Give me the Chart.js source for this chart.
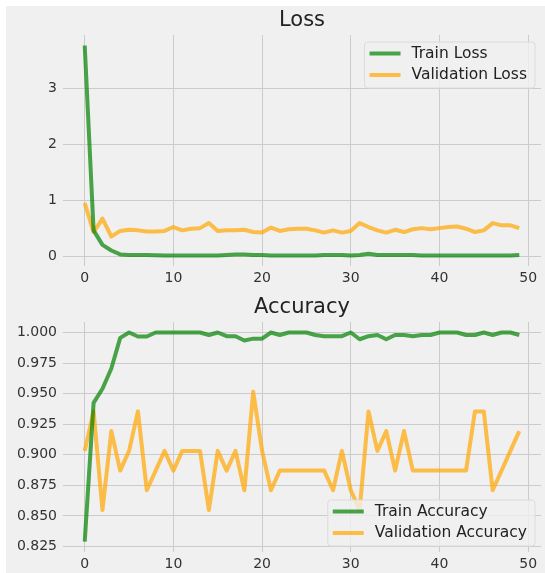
<!DOCTYPE html>
<html>
<head>
<meta charset="utf-8">
<script src="https://cdn.jsdelivr.net/npm/chart.js@4.4.1/dist/chart.umd.min.js"></script>
<style>
  html, body { margin: 0; padding: 0; background: #fff; }
  #fig { position: absolute; left: 6px; top: 6px; width: 539px; height: 567px; background: #f0f0f0; }
  #lossWrap { position: absolute; left: 0; top: 0; width: 539px; height: 284px; }
  #accWrap { position: absolute; left: 0; top: 284px; width: 539px; height: 283px; }
</style>
</head>
<body>
<div id="fig">
  <div id="lossWrap"><canvas id="lossChart"></canvas></div>
  <div id="accWrap"><canvas id="accChart"></canvas></div>
</div>
<script>
// Training history
const epochs = [0, 1, 2, 3, 4, 5, 6, 7, 8, 9, 10, 11, 12, 13, 14, 15, 16, 17, 18, 19,
  20, 21, 22, 23, 24, 25, 26, 27, 28, 29, 30, 31, 32, 33, 34, 35, 36, 37, 38, 39,
  40, 41, 42, 43, 44, 45, 46, 47, 48, 49];

const trainLoss = [3.77, 0.46, 0.20, 0.10, 0.03, 0.02, 0.02, 0.02, 0.015, 0.01,
  0.01, 0.01, 0.01, 0.01, 0.01, 0.01, 0.02, 0.03, 0.03, 0.02,
  0.02, 0.01, 0.01, 0.01, 0.01, 0.01, 0.01, 0.02, 0.02, 0.02,
  0.01, 0.02, 0.04, 0.02, 0.02, 0.02, 0.02, 0.02, 0.01, 0.01,
  0.01, 0.01, 0.01, 0.01, 0.01, 0.01, 0.01, 0.01, 0.01, 0.02];
const valLoss = [0.95, 0.43, 0.67, 0.35, 0.45, 0.47, 0.46, 0.44, 0.44, 0.45,
  0.52, 0.46, 0.49, 0.50, 0.59, 0.45, 0.46, 0.46, 0.47, 0.43,
  0.42, 0.51, 0.45, 0.48, 0.49, 0.49, 0.46, 0.42, 0.46, 0.42,
  0.45, 0.59, 0.52, 0.46, 0.42, 0.47, 0.43, 0.48, 0.50, 0.48,
  0.50, 0.52, 0.53, 0.49, 0.43, 0.46, 0.59, 0.55, 0.55, 0.50];

const trainAcc = [0.829, 0.9425, 0.954, 0.9706, 0.9956, 1.0, 0.9967, 0.9967, 1.0, 1.0,
  1.0, 1.0, 1.0, 1.0, 0.998, 1.0, 0.997, 0.997, 0.9935, 0.995,
  0.995, 1.0, 0.998, 1.0, 1.0, 1.0, 0.998, 0.997, 0.997, 0.997,
  1.0, 0.9945, 0.997, 0.998, 0.9945, 0.998, 0.998, 0.997, 0.998, 0.998,
  1.0, 1.0, 1.0, 0.998, 0.998, 1.0, 0.998, 1.0, 1.0, 0.998];
const valAcc = [0.9032, 0.9355, 0.8548, 0.9194, 0.8871, 0.9032, 0.9355, 0.8710, 0.8871, 0.9032,
  0.8871, 0.9032, 0.9032, 0.9032, 0.8548, 0.9032, 0.8871, 0.9032, 0.8710, 0.9516,
  0.9032, 0.8710, 0.8871, 0.8871, 0.8871, 0.8871, 0.8871, 0.8871, 0.8710, 0.9032,
  0.8710, 0.8548, 0.9355, 0.9032, 0.9194, 0.8871, 0.9194, 0.8871, 0.8871, 0.8871,
  0.8871, 0.8871, 0.8871, 0.8871, 0.9355, 0.9355, 0.8710, 0.8871, 0.9032, 0.9194];

const xTicks = [0, 10, 20, 30, 40, 50];
const lossTicks = [0, 1, 2, 3];
const accTicks = [0.825, 0.850, 0.875, 0.900, 0.925, 0.950, 0.975, 1.000];

const GREEN = 'rgba(0,128,0,0.7)';
const ORANGE = 'rgba(255,165,0,0.7)';
const GRID = '#cbcbcb';
const FONT = 'DejaVu Sans';

function pts(ys) {
  return epochs.map((e, i) => ({ x: e, y: ys[i] }));
}

// legend drawn inside the plot area, like matplotlib's
const insideLegend = {
  id: 'insideLegend',
  afterDatasetsDraw(chart, args, opts) {
    const ctx = chart.ctx;
    const area = chart.chartArea;
    ctx.save();
    ctx.font = '15.5px ' + FONT;
    const items = chart.data.datasets.map(d => ({ label: d.label, color: d.borderColor }));
    const textW = Math.max(...items.map(it => ctx.measureText(it.label).width));
    const w = 5 + 31 + 11 + textW + 8;
    const h = 46;
    const x = area.right - 6 - w;
    const y = opts.where === 'top' ? area.top + 7 : area.bottom - 6 - h;
    ctx.beginPath();
    ctx.roundRect(x, y, w, h, 3);
    ctx.fillStyle = 'rgba(240,240,240,0.8)';
    ctx.fill();
    ctx.strokeStyle = '#dadada';
    ctx.lineWidth = 1;
    ctx.stroke();
    items.forEach((it, i) => {
      const cy = y + 11.5 + i * 21.5;
      ctx.beginPath();
      ctx.moveTo(x + 5, cy);
      ctx.lineTo(x + 36, cy);
      ctx.strokeStyle = it.color;
      ctx.lineWidth = 4;
      ctx.stroke();
      ctx.fillStyle = '#222';
      ctx.textBaseline = 'middle';
      ctx.textAlign = 'left';
      ctx.fillText(it.label, x + 47, cy);
    });
    ctx.restore();
  }
};

function makeChart(id, title, titlePad, series, labels, yMin, yMax, yTicks, fmt, xHeight, where) {
  const ctx = document.getElementById(id).getContext('2d');
  return new Chart(ctx, {
    type: 'line',
    data: {
      datasets: series.map((s, i) => ({
        label: labels[i],
        data: pts(s),
        borderColor: i === 0 ? GREEN : ORANGE,
        borderWidth: 4,
        borderJoinStyle: 'round',
        pointRadius: 0,
        tension: 0,
        fill: false
      }))
    },
    options: {
      responsive: true,
      maintainAspectRatio: false,
      animation: false,
      layout: { padding: { left: 0, right: 4, top: 0, bottom: 0 } },
      plugins: {
        legend: { display: false },
        tooltip: { enabled: false },
        title: {
          display: true, text: title, fullSize: false,
          color: '#222', font: { family: FONT, size: 21, weight: 'normal', lineHeight: 1.2 },
          padding: titlePad
        },
        insideLegend: { where }
      },
      scales: {
        x: {
          type: 'linear', min: -2.45, max: 51.45,
          afterBuildTicks: s => { s.ticks = xTicks.map(v => ({ value: v })); },
          afterFit: s => { s.height = xHeight; },
          grid: { color: GRID, lineWidth: 1, drawTicks: false },
          border: { display: false },
          ticks: { color: '#333', padding: 4, font: { family: FONT, size: 14 }, maxRotation: 0 }
        },
        y: {
          min: yMin, max: yMax,
          afterBuildTicks: s => { s.ticks = yTicks.map(v => ({ value: v })); },
          afterFit: s => { s.width = 57; },
          grid: { color: GRID, lineWidth: 1, drawTicks: false },
          border: { display: false },
          ticks: { color: '#333', padding: 6, font: { family: FONT, size: 14 }, callback: fmt }
        }
      }
    },
    plugins: [insideLegend]
  });
}

function init() {
  makeChart('lossChart', 'Loss', { top: 2, bottom: 1.8 }, [trainLoss, valLoss],
    ['Train Loss', 'Validation Loss'], -0.178, 3.958, lossTicks, v => String(v), 24, 'top');
  makeChart('accChart', 'Accuracy', { top: 5, bottom: 1.8 }, [trainAcc, valAcc],
    ['Train Accuracy', 'Validation Accuracy'], 0.8205, 1.0086, accTicks, v => v.toFixed(3), 21, 'bottom');
}
document.addEventListener('DOMContentLoaded', init);
</script>
</body>
</html>
